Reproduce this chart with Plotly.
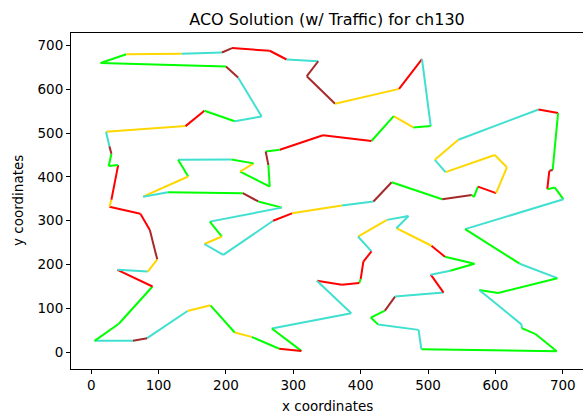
import plotly.graph_objects as go

# Tour of ch130 cities in visiting order (closed loop back to the first city)
tour_x = [22, 140, 168, 213, 253, 218, 200, 14, 52, 134, 194, 209, 265, 290, 337, 320, 362, 457, 491, 504,
          478, 449, 416, 344, 280, 259, 263, 265, 221, 241, 208, 129, 144, 77, 114, 225, 248, 283, 176, 194,
          168, 196, 270, 298, 372, 419, 446, 521, 565, 568, 574, 601, 617, 599, 526, 510, 545, 664, 693, 685,
          680, 677, 688, 701, 555, 636, 692, 604, 576, 639, 639, 659, 691, 490, 486, 426, 415, 436, 451, 523,
          504, 533, 569, 525, 505, 453, 471, 439, 396, 416, 404, 400, 398, 372, 335, 386, 268, 312, 279, 238,
          213, 177, 143, 83, 62, 5, 41, 91, 39, 84, 98, 87, 73, 27, 30, 40, 26, 30, 27]
tour_y = [503, 516, 551, 527, 538, 627, 652, 660, 680, 681, 684, 694, 688, 668, 664, 630, 567, 601, 669, 516,
          513, 539, 482, 495, 462, 458, 427, 378, 412, 431, 440, 439, 401, 355, 365, 363, 344, 330, 298, 264,
          247, 222, 300, 317, 335, 344, 388, 349, 359, 354, 378, 363, 422, 450, 411, 439, 485, 554, 546, 416,
          414, 372, 376, 349, 281, 202, 169, 135, 142, 63, 55, 42, 2, 7, 51, 63, 79, 95, 127, 136,
          177, 186, 202, 218, 243, 283, 311, 302, 264, 230, 207, 167, 158, 154, 163, 89, 54, 3, 8, 35,
          45, 107, 94, 32, 26, 26, 65, 150, 188, 184, 212, 279, 316, 332, 348, 427, 425, 453, 470]

# Traffic level of each leg (leg i runs from city i to city i+1, the last one closes the loop)
traffic = ["Y", "R", "G", "C", "C", "B", "G", "G", "Y", "C", "B", "R", "R", "C", "B", "B", "Y", "R", "C", "G",
           "Y", "G", "R", "R", "G", "B", "G", "G", "Y", "G", "C", "G", "Y", "C", "G", "B", "G", "C", "G", "Y",
           "C", "C", "R", "Y", "C", "B", "G", "B", "G", "G", "R", "Y", "Y", "Y", "C", "Y", "C", "R", "G", "B",
           "R", "G", "G", "C", "G", "C", "G", "G", "C", "C", "G", "G", "G", "C", "C", "G", "G", "B", "C", "R",
           "C", "G", "G", "R", "Y", "C", "C", "Y", "C", "R", "R", "G", "R", "R", "C", "C", "G", "R", "G", "Y",
           "G", "Y", "C", "B", "C", "G", "G", "R", "C", "Y", "B", "R", "R", "Y", "R", "G", "G", "B", "C"]

palette = {"G": "#00ff00", "Y": "#ffd700", "C": "#40e0d0", "R": "#ff0000", "B": "#a52a2a"}

fig = go.Figure()
n = len(tour_x)
for i in range(n):
    j = (i + 1) % n
    fig.add_trace(go.Scatter(
        x=[tour_x[i], tour_x[j]], y=[tour_y[i], tour_y[j]],
        mode="lines", line=dict(color=palette[traffic[i]], width=2),
        showlegend=False, hoverinfo="skip"))

axis_style = dict(showgrid=False, zeroline=False, showline=True, mirror=True,
                  linecolor="black", linewidth=1, ticks="outside", ticklen=4,
                  tickcolor="black", tickwidth=1, tickfont=dict(size=13.5, color="black"))

fig.update_layout(
    width=583, height=414,
    margin=dict(l=71, r=0, t=33, b=45),
    paper_bgcolor="white", plot_bgcolor="white",
    font=dict(family="DejaVu Sans", color="black"),
    title=dict(text="ACO Solution (w/ Traffic) for ch130", x=0.5, xref="paper",
               y=1 - 19 / 414, yref="container", yanchor="middle", xanchor="center",
               font=dict(size=16, color="black")),
    xaxis=dict(range=[-30, 730], tickvals=list(range(0, 701, 100)), **axis_style),
    yaxis=dict(range=[-38.3, 728.5], tickvals=list(range(0, 701, 100)), **axis_style),
    annotations=[
        dict(text="x coordinates", x=0.5, y=0, xref="paper", yref="paper",
             xanchor="center", yanchor="middle", yshift=-37, showarrow=False,
             font=dict(size=13.5, color="black")),
        dict(text="y coordinates", x=0, y=0.5, xref="paper", yref="paper",
             xanchor="center", yanchor="middle", xshift=-53, textangle=-90,
             showarrow=False, font=dict(size=13.5, color="black")),
    ],
)

fig.write_html("out.html")
